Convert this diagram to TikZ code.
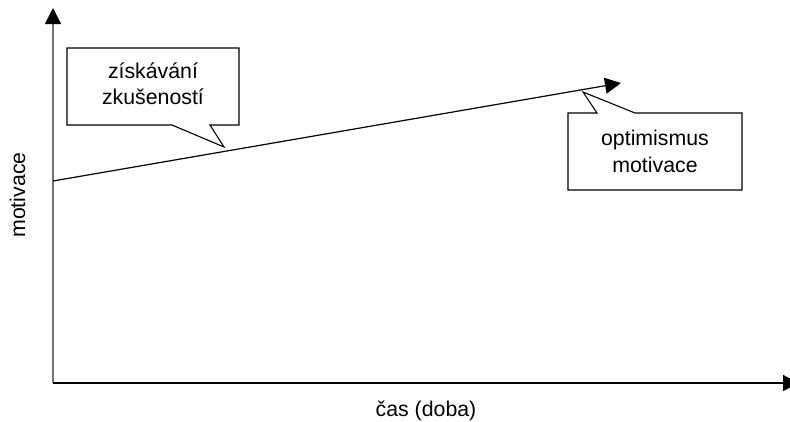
\documentclass[tikz,border=0pt]{standalone}
\usepackage{fontspec}
\setmainfont{Liberation Sans}
\usetikzlibrary{arrows.meta}
\begin{document}
\begin{tikzpicture}[x=1pt,y=-1pt,
  lbl/.style={font=\fontsize{21.3}{25}\selectfont, inner sep=0pt, anchor=base},
  callout/.style={draw=black, line width=1.1pt, fill=white, line join=miter},
  tipstyle/.style={-{Triangle[length=16pt,width=16pt,color=black]}}
]
\useasboundingbox (0,0) rectangle (790,421);
% axes
\coordinate (O) at (53,383);
\coordinate (ytop) at (53,8);
\coordinate (xend) at (799,383);
\draw[tipstyle, draw=black!55, line width=1.6pt] (O) -- (ytop);
\draw[tipstyle, draw=black, line width=1.2pt] (O) -- (xend);
% main line
\coordinate (ls) at (53,181);
\coordinate (le) at (621,83);
\draw[tipstyle, line width=1.2pt] (ls) -- (le);
% callout 1
\draw[callout] (67,48) -- (239,48) -- (239,125) -- (210,125) -- (224,147) -- (172,125) -- (67,125) -- cycle;
\node[lbl] (c1a) at (153,78) {získávání};
\node[lbl] (c1b) at (153,104) {zkušeností};
% callout 2
\draw[callout] (568,113) -- (597,113) -- (583,92) -- (635,113) -- (742,113) -- (742,190) -- (568,190) -- cycle;
\node[lbl] (c2a) at (655,145) {optimismus};
\node[lbl] (c2b) at (655,172) {motivace};
% axis labels
\node[lbl, rotate=90] (ylab) at (25,195) {motivace};
\node[lbl] (xlab) at (426,416) {čas (doba)};
\end{tikzpicture}
\end{document}
